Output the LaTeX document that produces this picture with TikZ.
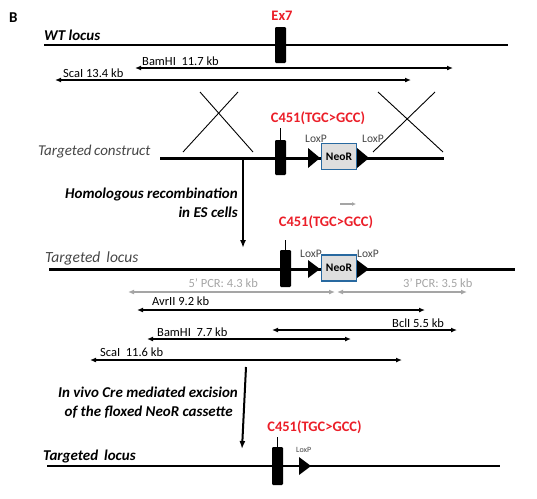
\documentclass[tikz,border=0pt]{standalone}
\usepackage{fontspec}
\setmainfont{Carlito}
\usetikzlibrary{arrows.meta}
\definecolor{myred}{RGB}{235,30,40}
\definecolor{pcrgray}{RGB}{165,165,165}
\definecolor{neoblue}{RGB}{40,105,160}
\definecolor{neofill}{RGB}{222,222,222}
\definecolor{darktext}{RGB}{70,70,70}
\tikzset{
  thinlocus/.style={line width=1.5pt},
  thicklocus/.style={line width=3pt},
  exonbox/.style={fill=black, rounded corners=1.2pt, inner sep=0pt, minimum width=11pt},
  stem/.style={line width=0.6pt},
  sizearrow/.style={line width=1.2pt, {Latex[length=6pt,width=5pt]}-{Latex[length=6pt,width=5pt]}},
  pcrarrow/.style={sizearrow, draw=pcrgray},
  sizelabel/.style={font=\fontsize{12.5}{13}\selectfont, anchor=base west, inner sep=0pt},
  pcrlabel/.style={sizelabel, text=pcrgray},
  redlabel/.style={text=myred, font=\bfseries\fontsize{14.5}{16}\selectfont, anchor=base, inner sep=0pt},
  titlelabel/.style={font=\bfseries\itshape\fontsize{15}{17}\selectfont, anchor=base west, inner sep=0pt},
  steplabel/.style={font=\bfseries\itshape\fontsize{15}{16}\selectfont, anchor=base east, inner sep=0pt},
  loxlabel/.style={font=\fontsize{11.5}{12}\selectfont, text=darktext, anchor=base west, inner sep=0pt},
  neobox/.style={draw=neoblue, line width=1.8pt, fill=neofill, inner sep=0pt, minimum width=35pt, minimum height=26pt, font=\bfseries\fontsize{11.5}{12}\selectfont},
  crossline/.style={line width=0.9pt},
  steparrow/.style={line width=2pt, -{Latex[length=8pt,width=6pt]}},
}
\begin{document}
\begin{tikzpicture}[x=1pt,y=-1pt]
\useasboundingbox (0,0) rectangle (537,498);

% panel letter
\node[font=\bfseries\fontsize{15}{17}\selectfont, anchor=base west, inner sep=0pt] (B) at (9,22) {B};

% ---------------- WT locus ----------------
\node[titlelabel] (wtlab) at (44,40) {WT locus};
\coordinate (wtL) at (44,45);
\coordinate (wtR) at (508,45);
\draw[thinlocus] (wtL) -- (wtR);
\node[exonbox, minimum height=36pt] (ex1) at (280.5,45) {};
\node[redlabel] (ex7) at (282,20) {Ex7};

\coordinate (bam1L) at (135,68); \coordinate (bam1R) at (453,68);
\draw[sizearrow] (bam1L) -- (bam1R);
\node[sizelabel] (bam1lab) at (142,65) {BamHI\ \ 11.7 kb};
\coordinate (sca1L) at (55,80); \coordinate (sca1R) at (411,80);
\draw[sizearrow] (sca1L) -- (sca1R);
\node[sizelabel] (sca1lab) at (63,77) {ScaI 13.4 kb};

% crossovers
\coordinate (xa1) at (200,92); \coordinate (xa2) at (253,152);
\coordinate (xb1) at (238,92); \coordinate (xb2) at (183,152);
\draw[crossline] (xa1) -- (xa2);
\draw[crossline] (xb1) -- (xb2);
\coordinate (xc1) at (378,92); \coordinate (xc2) at (443,152);
\coordinate (xd1) at (435,92); \coordinate (xd2) at (373,152);
\draw[crossline] (xc1) -- (xc2);
\draw[crossline] (xd1) -- (xd2);

% ---------------- Targeted construct ----------------
\node[font=\itshape\fontsize{15}{16}\selectfont, text=darktext, anchor=base west, inner sep=0pt] (tclab) at (38,155) {Targeted\,construct};
\coordinate (tcL) at (160,158); \coordinate (tcR) at (444,158);
\draw[thicklocus] (tcL) -- (tcR);
\node[exonbox, minimum height=35pt] (ex2) at (280.5,157.5) {};
\coordinate (stem2) at (280.5,128);
\draw[stem] (stem2) -- (ex2.north);
\node[redlabel] (c451a) at (318,122) {C451(TGC>GCC)};
\fill (308,148) -- (320,158) -- (308,168) -- cycle;
\node[neobox] (neo1) at (339,156.5) {NeoR};
\fill (357,148) -- (369,158) -- (357,168) -- cycle;
\node[loxlabel] (lox1a) at (305,142) {LoxP};
\node[loxlabel] (lox1b) at (362,142) {LoxP};

% step 1
\coordinate (s1top) at (243,158); \coordinate (s1bot) at (243,248);
\draw[steparrow] (s1top) -- (s1bot);
\node[steplabel] (hr1) at (238,198) {Homologous recombination};
\node[steplabel] (hr2) at (238,217) {in ES cells};

% small gray arrow
\coordinate (gaL) at (340,204); \coordinate (gaR) at (356,204);
\draw[line width=1.2pt, draw=pcrgray, -{Latex[length=4pt,width=4pt]}] (gaL) -- (gaR);

% ---------------- Targeted locus ----------------
\node[font=\itshape\fontsize{15.5}{17}\selectfont, text=darktext, anchor=base west, inner sep=0pt] (tllab) at (45,262) {Targeted\ \,locus};
\coordinate (tlL) at (49,269); \coordinate (tlR) at (515,269);
\draw[thicklocus] (tlL) -- (tlR);
\node[exonbox, minimum height=37pt] (ex3) at (285.5,268.5) {};
\coordinate (stem3) at (285.5,240);
\draw[stem] (stem3) -- (ex3.north);
\node[redlabel] (c451b) at (326,226) {C451(TGC>GCC)};
\fill (308,260) -- (320,269) -- (308,278) -- cycle;
\node[neobox] (neo2) at (339,268) {NeoR};
\fill (357,260) -- (369,269) -- (357,278) -- cycle;
\node[loxlabel] (lox2a) at (300,257) {LoxP};
\node[loxlabel] (lox2b) at (357,257) {LoxP};

% PCR arrows
\coordinate (p5L) at (128,292); \coordinate (p5R) at (335,292);
\coordinate (p3L) at (337,292); \coordinate (p3R) at (467,292);
\draw[pcrarrow] (p5L) -- (p5R);
\draw[pcrarrow] (p3L) -- (p3R);
\node[pcrlabel, anchor=base east] (p5lab) at (258,287) {5' PCR: 4.3 kb};
\node[pcrlabel] (p3lab) at (403,287) {3' PCR: 3.5 kb};

% restriction fragments
\coordinate (avrL) at (137,310); \coordinate (avrR) at (425,310);
\draw[sizearrow] (avrL) -- (avrR);
\node[sizelabel] (avrlab) at (152,305) {AvrII 9.2 kb};
\coordinate (bclL) at (272,330); \coordinate (bclR) at (457,330);
\draw[sizearrow] (bclL) -- (bclR);
\node[sizelabel] (bcllab) at (392,327) {BclI 5.5 kb};
\coordinate (bam2L) at (147,339); \coordinate (bam2R) at (351,339);
\draw[sizearrow] (bam2L) -- (bam2R);
\node[sizelabel] (bam2lab) at (157,336) {BamHI\ \ 7.7 kb};
\coordinate (sca2L) at (90,360); \coordinate (sca2R) at (402,360);
\draw[sizearrow] (sca2L) -- (sca2R);
\node[sizelabel] (sca2lab) at (100,356) {ScaI\ \ 11.6 kb};

% step 2
\coordinate (s2top) at (246,367); \coordinate (s2bot) at (242,449);
\draw[steparrow] (s2top) -- (s2bot);
\node[steplabel] (cre1) at (238,397) {In vivo Cre mediated excision};
\node[steplabel] (cre2) at (233,416) {of the floxed NeoR cassette};

% ---------------- Final targeted locus ----------------
\node[titlelabel] (fllab) at (43,460) {Targeted\ \,locus};
\coordinate (flL) at (47,466); \coordinate (flR) at (500,466);
\draw[line width=2.4pt] (flL) -- (flR);
\node[exonbox, minimum height=38pt] (ex4) at (277.5,466) {};
\coordinate (stem4) at (277.5,437);
\draw[stem] (stem4) -- (ex4.north);
\node[redlabel] (c451c) at (314.5,431) {C451(TGC>GCC)};
\fill (299,457) -- (311,466) -- (299,475) -- cycle;
\node[loxlabel, font=\fontsize{8}{9}\selectfont] (lox3) at (296,452) {LoxP};
\end{tikzpicture}
\end{document}
